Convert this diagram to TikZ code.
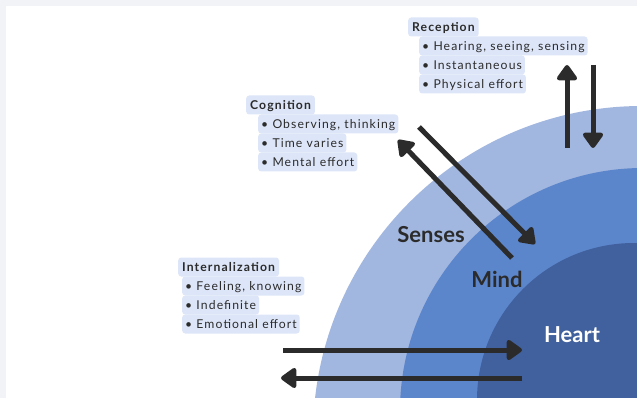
\documentclass[tikz,border=0pt]{standalone}
\usepackage{fontspec}
\setmainfont{Lato}
\newfontfamily\notefont{Lato}[LetterSpace=9]
\usetikzlibrary{arrows.meta}

\definecolor{panelgrey}{HTML}{F1F3F7}
\definecolor{senseblue}{HTML}{A2B7E0}
\definecolor{mindblue}{HTML}{5C86CB}
\definecolor{heartblue}{HTML}{41619E}
\definecolor{boxblue}{HTML}{DDE6F8}
\definecolor{ink}{HTML}{2B2B2B}

\tikzset{
  head/.style={fill=boxblue, rounded corners=3pt, anchor=west, text=ink,
    inner xsep=4pt, inner ysep=2.75pt, text height=11pt, text depth=2.5pt,
    font=\notefont\bfseries\fontsize{12.2}{14}\selectfont},
  item/.style={head, inner xsep=3pt, font=\notefont\fontsize{12.2}{14}\selectfont},
  ring/.style={text=ink, font=\bfseries\fontsize{22}{26}\selectfont},
  flow/.style={draw=ink, line width=5pt, -{Triangle[width=23pt,length=17pt,round]}},
}

\begin{document}
\begin{tikzpicture}[x=1pt,y=-1pt]
  \fill[panelgrey] (0,0) rectangle (637,398);
  \fill[white] (6,6) rectangle (637,398);
  \useasboundingbox (0,0) rectangle (637,398);

  % the three rings
  \begin{scope}
    \clip (6,6) rectangle (637,398);
    \fill[senseblue] (642,435) circle (329);
    \fill[mindblue] (643,411) circle (243);
    \fill[heartblue] (634,400) circle (157);
  \end{scope}

  \node[ring] (senses) at (431,235) {Senses};
  \node[ring] (mind) at (497,279) {Mind};
  \node[ring, text=white] (heart) at (572,335) {Heart};

  % notes
  \node[head] (rec) at (408,27) {Reception};
  \node[item] (rec1) at (419,46) {• Hearing, seeing, sensing};
  \node[item] (rec2) at (419,65) {• Instantaneous};
  \node[item] (rec3) at (419,84) {• Physical effort};

  \node[head] (cog) at (246,105) {Cognition};
  \node[item] (cog1) at (258,124) {• Observing, thinking};
  \node[item] (cog2) at (258,143) {• Time varies};
  \node[item] (cog3) at (258,162) {• Mental effort};

  \node[head] (int) at (178,267) {Internalization};
  \node[item] (int1) at (182,286) {• Feeling, knowing};
  \node[item] (int2) at (182,305) {• Indefinite};
  \node[item] (int3) at (182,324) {• Emotional effort};

  % arrow ends
  \coordinate (recup0) at (567,148);
  \coordinate (recup1) at (567,65);
  \coordinate (recdn0) at (593,65);
  \coordinate (recdn1) at (593,148);
  \coordinate (cogin0) at (419,127);
  \coordinate (cogin1) at (535,244);
  \coordinate (cogout0) at (512,258);
  \coordinate (cogout1) at (398,140);
  \coordinate (intin0) at (283,350);
  \coordinate (intin1) at (522,350);
  \coordinate (intout0) at (522,378);
  \coordinate (intout1) at (281,378);

  \draw[flow] (recup0) -- (recup1);
  \draw[flow] (recdn0) -- (recdn1);
  \draw[flow] (cogin0) -- (cogin1);
  \draw[flow] (cogout0) -- (cogout1);
  \draw[flow] (intin0) -- (intin1);
  \draw[flow] (intout0) -- (intout1);
\end{tikzpicture}
\end{document}
